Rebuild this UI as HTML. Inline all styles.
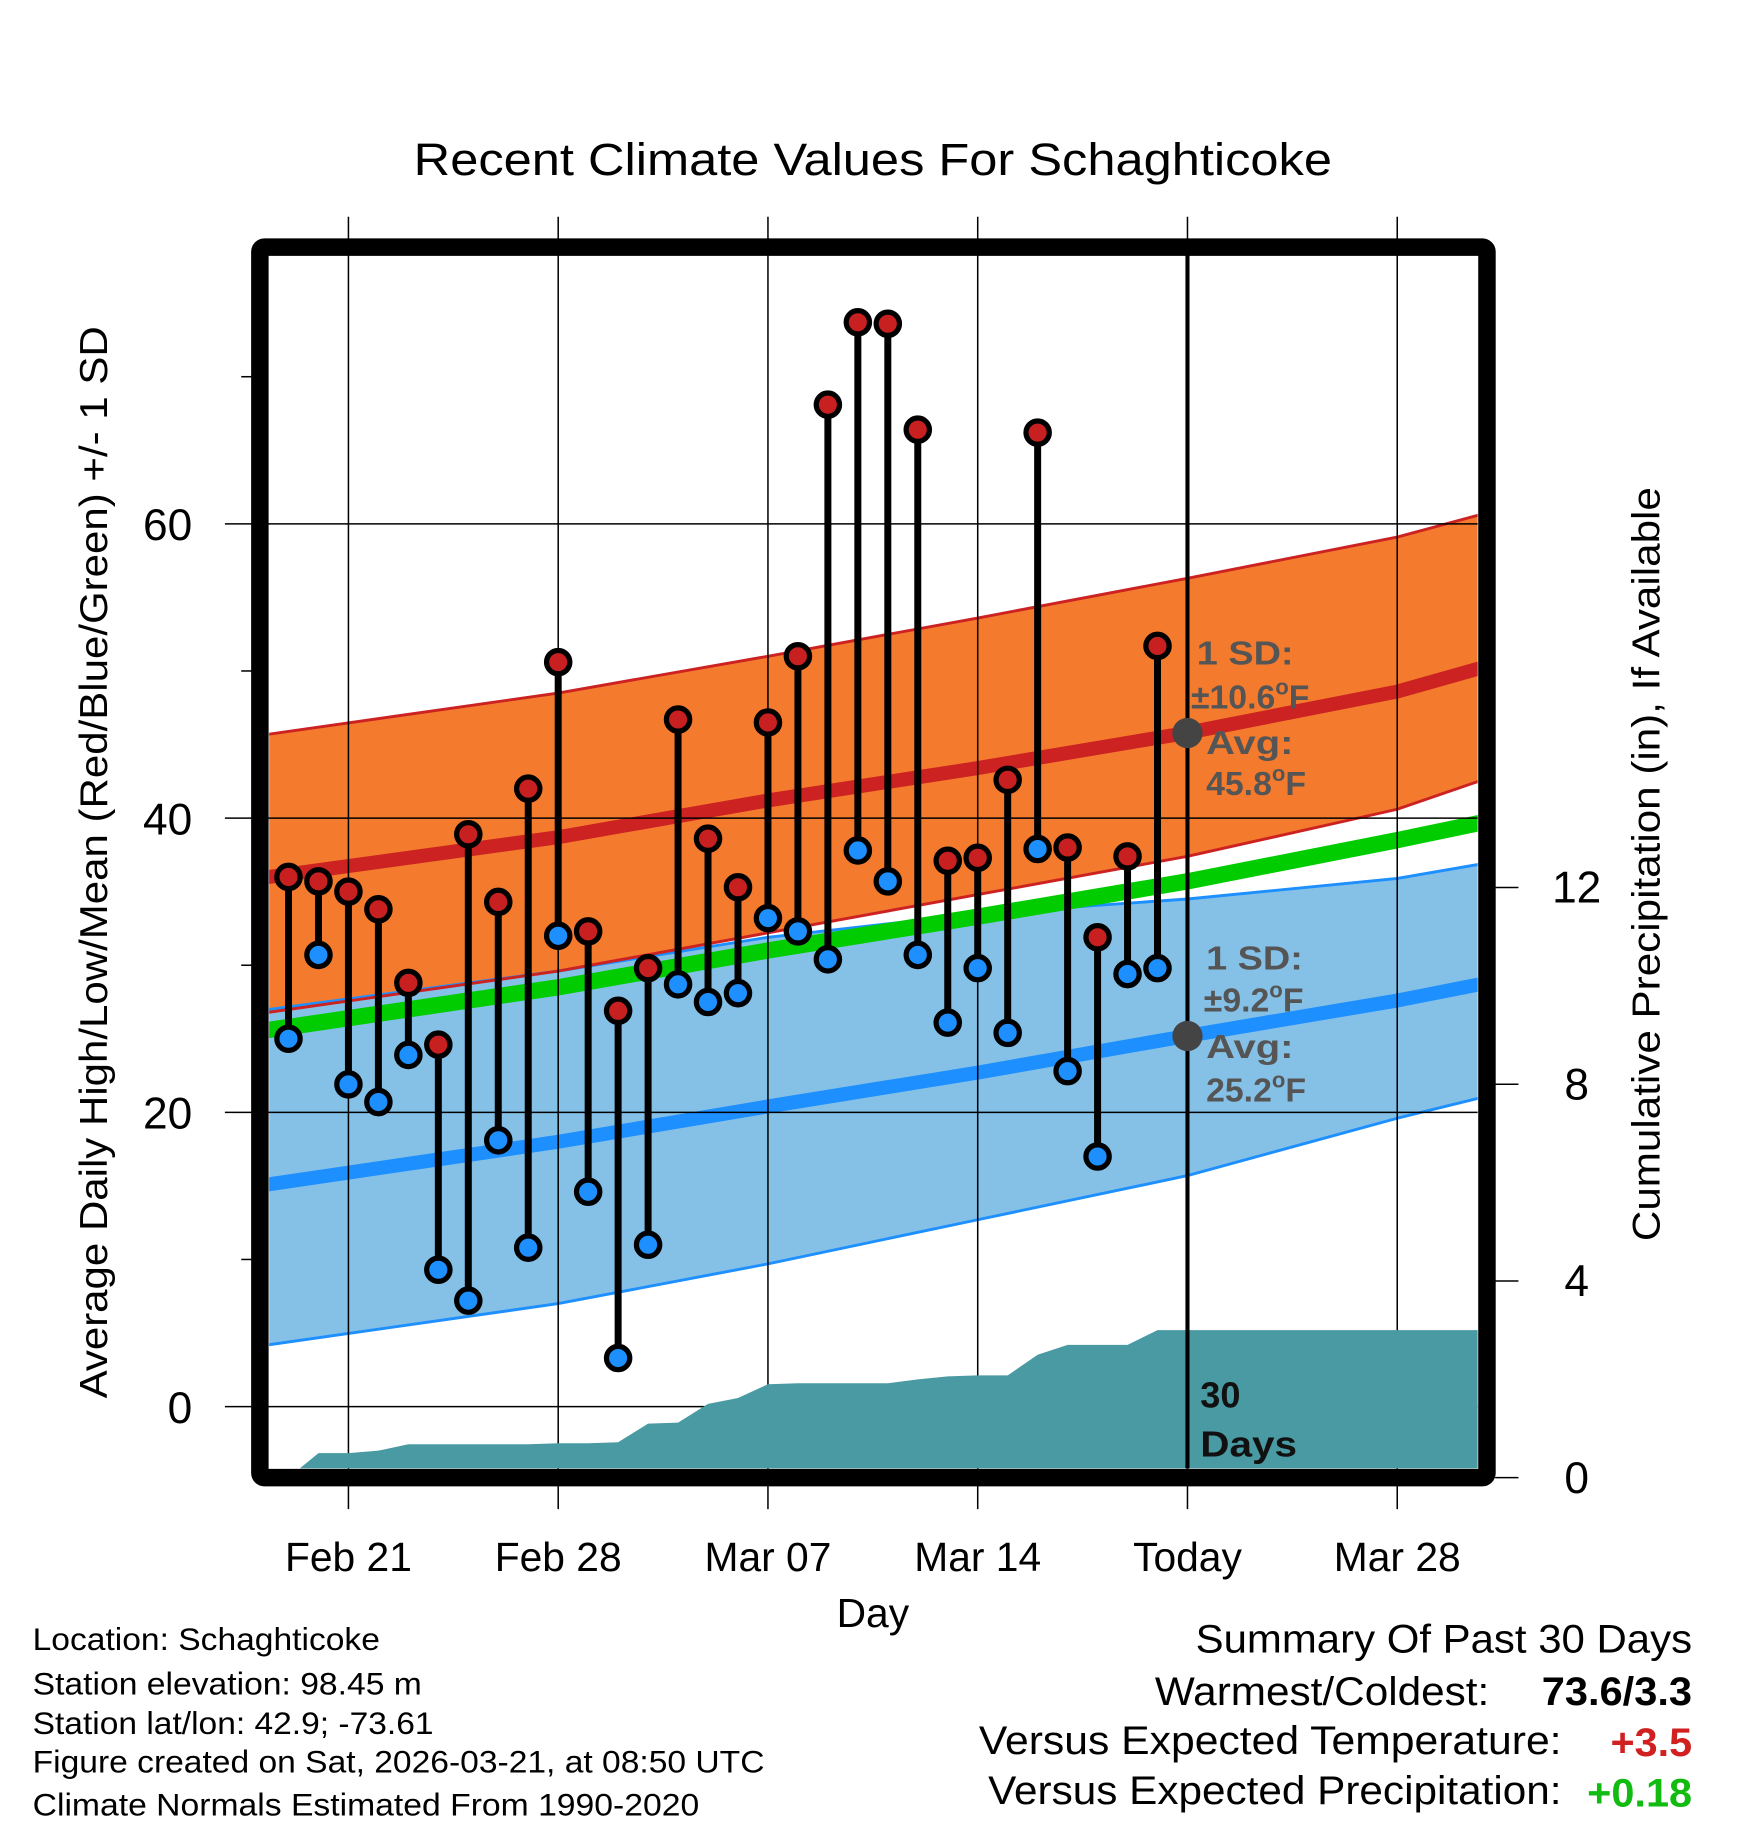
<!DOCTYPE html>
<html><head><meta charset="utf-8"><style>
html,body{margin:0;padding:0;background:#fff}
svg{display:block;font-family:"Liberation Sans",Arial,sans-serif}
</style></head><body>
<svg id="chart" width="1748" height="1828" viewBox="0 0 1500 1568.6" xmlns="http://www.w3.org/2000/svg">
<defs><clipPath id="plotclip"><rect x="231" y="219" width="1037" height="1041"/></clipPath></defs>
<rect width="1500" height="1568.6" fill="#fff"/>
<text x="355" y="150" font-size="39" textLength="788" lengthAdjust="spacingAndGlyphs">Recent Climate Values For Schaghticoke</text>
<g id="bands" clip-path="url(#plotclip)"></g>
<g id="grid"></g>
<g id="precip" clip-path="url(#plotclip)"></g>
<g id="marks"></g>
<g id="annot" fill="#555" font-weight="bold" font-size="29">
<circle cx="1019" cy="629" r="13" fill="#444"/>
<circle cx="1019" cy="889" r="13" fill="#444"/>
<text x="1027" y="570" textLength="83" lengthAdjust="spacingAndGlyphs">1 SD:</text>
<text x="1022" y="608">±10.6<tspan font-size="19" dy="-12">o</tspan><tspan dy="12">F</tspan></text>
<text x="1035" y="647" textLength="75" lengthAdjust="spacingAndGlyphs">Avg:</text>
<text x="1035" y="682">45.8<tspan font-size="19" dy="-12">o</tspan><tspan dy="12">F</tspan></text>
<text x="1035" y="832" textLength="83" lengthAdjust="spacingAndGlyphs">1 SD:</text>
<text x="1033" y="868">±9.2<tspan font-size="19" dy="-12">o</tspan><tspan dy="12">F</tspan></text>
<text x="1035" y="908" textLength="75" lengthAdjust="spacingAndGlyphs">Avg:</text>
<text x="1035" y="945">25.2<tspan font-size="19" dy="-12">o</tspan><tspan dy="12">F</tspan></text>
<text x="1030" y="1208" fill="#111" font-size="31">30</text>
<text x="1030" y="1250" fill="#111" font-size="31" textLength="83" lengthAdjust="spacingAndGlyphs">Days</text>
</g>
<rect x="223" y="212" width="1053" height="1056" fill="none" stroke="#000" stroke-width="15" rx="4"/>
<g id="axes"></g>
<text transform="translate(92,1200) rotate(-90)" font-size="33" textLength="920" lengthAdjust="spacingAndGlyphs">Average Daily High/Low/Mean (Red/Blue/Green) +/- 1 SD</text>
<text transform="translate(1424,1065) rotate(-90)" font-size="33" textLength="647" lengthAdjust="spacingAndGlyphs">Cumulative Precipitation (in), If Available</text>
<text x="749" y="1396" font-size="35" text-anchor="middle">Day</text>
<g font-size="27">
<text x="28" y="1416" textLength="298" lengthAdjust="spacingAndGlyphs">Location: Schaghticoke</text>
<text x="28" y="1454" textLength="334" lengthAdjust="spacingAndGlyphs">Station elevation: 98.45 m</text>
<text x="28" y="1488" textLength="344" lengthAdjust="spacingAndGlyphs">Station lat/lon: 42.9; -73.61</text>
<text x="28" y="1521" textLength="628" lengthAdjust="spacingAndGlyphs">Figure created on Sat, 2026-03-21, at 08:50 UTC</text>
<text x="28" y="1558" textLength="572" lengthAdjust="spacingAndGlyphs">Climate Normals Estimated From 1990-2020</text>
</g>
<g font-size="34">
<text x="1026" y="1418" textLength="426" lengthAdjust="spacingAndGlyphs">Summary Of Past 30 Days</text>
<text x="991" y="1463" textLength="287" lengthAdjust="spacingAndGlyphs">Warmest/Coldest:</text>
<text x="1323" y="1463" font-weight="bold" textLength="129" lengthAdjust="spacingAndGlyphs">73.6/3.3</text>
<text x="840" y="1505" textLength="500" lengthAdjust="spacingAndGlyphs">Versus Expected Temperature:</text>
<text x="1382" y="1507" font-weight="bold" fill="#d02020" textLength="70" lengthAdjust="spacingAndGlyphs">+3.5</text>
<text x="848" y="1548" textLength="492" lengthAdjust="spacingAndGlyphs">Versus Expected Precipitation:</text>
<text x="1362" y="1550" font-weight="bold" fill="#11bb11" textLength="90" lengthAdjust="spacingAndGlyphs">+0.18</text>
</g>
</svg>
<script>
// ---- data ----
const highs = [36.0,35.7,35.0,33.8,28.8,24.6,38.9,34.3,42.0,50.6,32.3,26.9,29.8,46.7,38.6,35.3,46.5,51.0,68.1,73.7,73.6,66.4,37.1,37.3,42.6,66.2,38.0,31.9,37.4,51.7];
const lows  = [25.0,30.7,21.9,20.7,23.9,9.3,7.2,18.1,10.8,32.0,14.6,3.3,11.0,28.7,27.5,28.1,33.2,32.3,30.4,37.8,35.7,30.7,26.1,29.8,25.4,37.9,22.8,17.0,29.4,29.8];
const precip = [0,0.5,0.5,0.55,0.68,0.68,0.68,0.68,0.68,0.7,0.7,0.72,1.1,1.12,1.5,1.62,1.9,1.92,1.92,1.92,1.92,2.0,2.06,2.08,2.08,2.5,2.7,2.7,2.7,3.0];
const normDays = [-3,7,14,21,28,35,39];
const highUpper = [45.6,48.5,51.0,53.6,56.3,59.1,61.3];
const highAvg   = [35.9,38.7,41.2,43.4,45.8,48.6,50.9];
const highLower = [26.7,29.6,32.2,34.8,37.4,40.6,43.4];
const lowUpper  = [26.9,29.6,31.9,33.5,34.5,35.9,37.3];
const lowAvg    = [15.0,18.0,20.4,22.7,25.2,27.6,29.2];
const lowLower  = [4.1,7.0,9.7,12.7,15.7,19.6,21.6];
const meanAvg   = [25.5,28.5,31.0,33.3,35.7,38.5,40.2];
const xTickLabels = ["Feb 21","Feb 28","Mar 07","Mar 14","Today","Mar 28"];
const yTicks = [0,20,40,60];
const yMinor = [10,30,50,70];
const y2Ticks = [0,4,8,12];
const firstDay = -2;

// ---- scales ----
const X = d => 299 + d*180/7;
const Y = v => 1207 - v*12.625;
const Y2 = v => 1268 - v*42.2;
const NS="http://www.w3.org/2000/svg";
function mk(parent, tag, attrs){const e=document.createElementNS(NS,tag);for(const k in attrs)e.setAttribute(k,attrs[k]);document.getElementById(parent).appendChild(e);return e;}
const line = arr => normDays.map((d,i)=>X(d)+","+Y(arr[i])).join(" ");
const band = (u,l) => normDays.map((d,i)=>X(d)+","+Y(u[i])).join(" ")+" "+normDays.slice().reverse().map((d,j)=>{const i=normDays.length-1-j;return X(d)+","+Y(l[i]);}).join(" ");

let e;
e=mk('bands','polygon',{points:band(lowUpper,lowLower),fill:'#85c1e7'});


e=mk('bands','polygon',{points:band(highUpper,highLower),fill:'#f47b2d'});


[[lowUpper,'#1e8fff',2.5,'low-sd-upper'],[lowLower,'#1e8fff',2.5,'low-sd-lower'],[highUpper,'#cc2222',2.5,'high-sd-upper'],[highLower,'#cc2222',2.5,'high-sd-lower'],[meanAvg,'#00cc00',14,'mean-avg-line'],[lowAvg,'#1e8fff',12,'low-avg-line'],[highAvg,'#cc2222',12,'high-avg-line']].forEach(([a,c,w,n])=>{
  e=mk('bands','polyline',{points:line(a),fill:'none',stroke:c,'stroke-width':w});
  
  
});

yTicks.forEach(v=>{
  e=mk('grid','line',{x1:193,x2:1268,y1:Y(v),y2:Y(v),stroke:'#000','stroke-width':1.3});
  
  
  e=mk('axes','text',{x:165,y:Y(v)+14,'font-size':38,'text-anchor':'end'});
  e.textContent=v;
  
  
});
yMinor.forEach(v=>{
  e=mk('grid','line',{x1:207,x2:216,y1:Y(v),y2:Y(v),stroke:'#000','stroke-width':1.3});
  
  
});
xTickLabels.forEach((t,i)=>{
  const x=X(i*7);
  e=mk('grid','line',{x1:x,x2:x,y1:186,y2:1295,stroke:'#000','stroke-width':1.3});
  
  
  e=mk('axes','text',{x:x,y:1348,'font-size':35,'text-anchor':'middle'});
  e.textContent=t;
  
  
});
y2Ticks.forEach(v=>{
  e=mk('axes','line',{x1:1283,x2:1303,y1:Y2(v),y2:Y2(v),stroke:'#000','stroke-width':1.3});
  
  
  e=mk('axes','text',{x:1353,y:Y2(v)+13,'font-size':38,'text-anchor':'middle'});
  e.textContent=v;
  
  
});

let pts=precip.map((p,i)=>X(firstDay+i)+","+Y2(p));
pts.push(X(40)+","+Y2(precip[precip.length-1]));
pts.push(X(40)+","+Y2(0));
pts.push(X(firstDay)+","+Y2(0));
e=mk('precip','polygon',{points:pts.join(" "),fill:'#4a9aa3'});



e=mk('marks','line',{x1:X(28),x2:X(28),y1:219,y2:1260,stroke:'#000','stroke-width':3.5});



highs.forEach((h,i)=>{
  const x=X(firstDay+i);
  e=mk('marks','line',{x1:x,x2:x,y1:Y(h),y2:Y(lows[i]),stroke:'#000','stroke-width':6});
  
  
});
highs.forEach((h,i)=>{
  const x=X(firstDay+i);
  e=mk('marks','circle',{cx:x,cy:Y(lows[i]),r:10,fill:'#1e8fff',stroke:'#000','stroke-width':4.5});
  
  
  e=mk('marks','circle',{cx:x,cy:Y(h),r:10,fill:'#c82020',stroke:'#000','stroke-width':4.5});
  
  
});
</script>
</body></html>
